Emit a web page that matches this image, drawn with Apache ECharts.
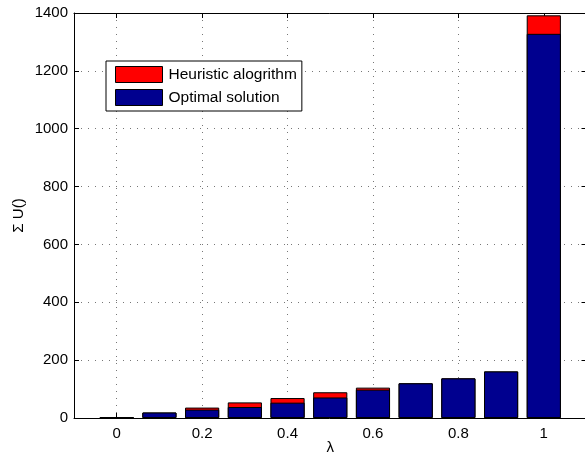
<!DOCTYPE html>
<html><head><meta charset="utf-8">
<script src="https://cdn.jsdelivr.net/npm/echarts@6/dist/echarts.min.js"></script>
<style>html,body{margin:0;padding:0;background:#fff}#c{width:585px;height:457px}</style>
</head><body><div id="c"></div>
<script>
// λ values of the bars
const lambdas = ['0','0.1','0.2','0.3','0.4','0.5','0.6','0.7','0.8','0.9','1'];
// Heuristic algorithm totals
const heuristic = [2, 19, 36, 54, 69, 89, 105, 120, 137, 161, 1392];
// Optimal solution values
const optimal = [2, 19, 29, 38, 53, 71, 98, 120, 137, 161, 1328];
// Tick labels
const xTickLabels = ['0','0.2','0.4','0.6','0.8','1'];
const yTicks = [0, 200, 400, 600, 800, 1000, 1200, 1400];

// pad the category axis with one empty slot on each side (range -0.1 .. 1.1)
const cats = ['-0.1'].concat(lambdas).concat(['1.1']);
const pad = arr => [null].concat(arr).concat([null]);
const isTick = (idx, val) => xTickLabels.indexOf(val) >= 0;

const FONT = 'Liberation Sans, Arial, Helvetica, sans-serif';
const chart = echarts.init(document.getElementById('c'), null, {renderer: 'canvas'});
chart.setOption({
  animation: false,
  backgroundColor: '#fff',
  grid: {left: 74, top: 13, width: 512.5, height: 405, containLabel: false, outerBoundsMode: 'none'},
  legend: {
    orient: 'vertical', left: 106, top: 61, icon: 'rect',
    padding: [5, 5, 5, 9],
    backgroundColor: '#fff', borderColor: '#000', borderWidth: 1,
    itemWidth: 47, itemHeight: 16, itemGap: 6,
    textStyle: {fontFamily: FONT, fontSize: 15.5, color: '#000', padding: [0, 0, 0, 1]},
    data: [
      {name: 'Heuristic alogrithm', itemStyle: {color: '#ff0000', borderColor: '#000', borderWidth: 1}},
      {name: 'Optimal solution', itemStyle: {color: '#00008f', borderColor: '#000', borderWidth: 1}}
    ]
  },
  xAxis: [{
    type: 'category', data: cats, boundaryGap: false,
    name: 'λ', nameLocation: 'middle', nameGap: 22, nameMoveOverlap: false,
    nameTextStyle: {fontFamily: FONT, fontSize: 15, color: '#000'},
    axisLine: {onZero: false, lineStyle: {color: '#000', width: 1}},
    axisTick: {inside: true, length: 5, interval: isTick, lineStyle: {color: '#000'}},
    axisLabel: {interval: isTick, fontFamily: FONT, fontSize: 15, color: '#000', margin: 8},
    splitLine: {show: true, interval: isTick, lineStyle: {color: '#777', type: [1, 6], width: 1}}
  }, {
    type: 'category', data: cats, boundaryGap: false, position: 'top',
    axisLine: {onZero: false, lineStyle: {color: '#000', width: 1}},
    axisTick: {inside: true, length: 5, interval: isTick, lineStyle: {color: '#000'}},
    axisLabel: {show: false}, splitLine: {show: false}
  }],
  yAxis: [{
    type: 'value', min: 0, max: 1400, interval: 200,
    name: 'Σ U()', nameLocation: 'middle', nameGap: 48, nameMoveOverlap: false,
    nameTextStyle: {fontFamily: FONT, fontSize: 15, color: '#000'},
    axisLine: {show: true, lineStyle: {color: '#000', width: 1}},
    axisTick: {show: true, inside: true, length: 5, lineStyle: {color: '#000'}},
    axisLabel: {fontFamily: FONT, fontSize: 15, color: '#000', margin: 6,
      formatter: v => yTicks.indexOf(v) >= 0 ? String(v) : ''},
    splitLine: {show: true, lineStyle: {color: '#777', type: [1, 6], width: 1}}
  }, {
    type: 'value', min: 0, max: 1400, interval: 200, position: 'right',
    axisLine: {show: true, lineStyle: {color: '#000'}},
    axisTick: {show: true, inside: true, length: 5}, axisLabel: {show: false}, splitLine: {show: false}
  }],
  series: [{
    name: 'Heuristic alogrithm', type: 'bar', data: pad(heuristic),
    barWidth: '80%', barGap: '-100%',
    itemStyle: {color: '#ff0000', borderColor: '#000', borderWidth: 1}
  }, {
    name: 'Optimal solution', type: 'bar', data: pad(optimal),
    barWidth: '80%', barGap: '-100%',
    itemStyle: {color: '#00008f', borderColor: '#000', borderWidth: 1}
  }]
});
</script></body></html>
